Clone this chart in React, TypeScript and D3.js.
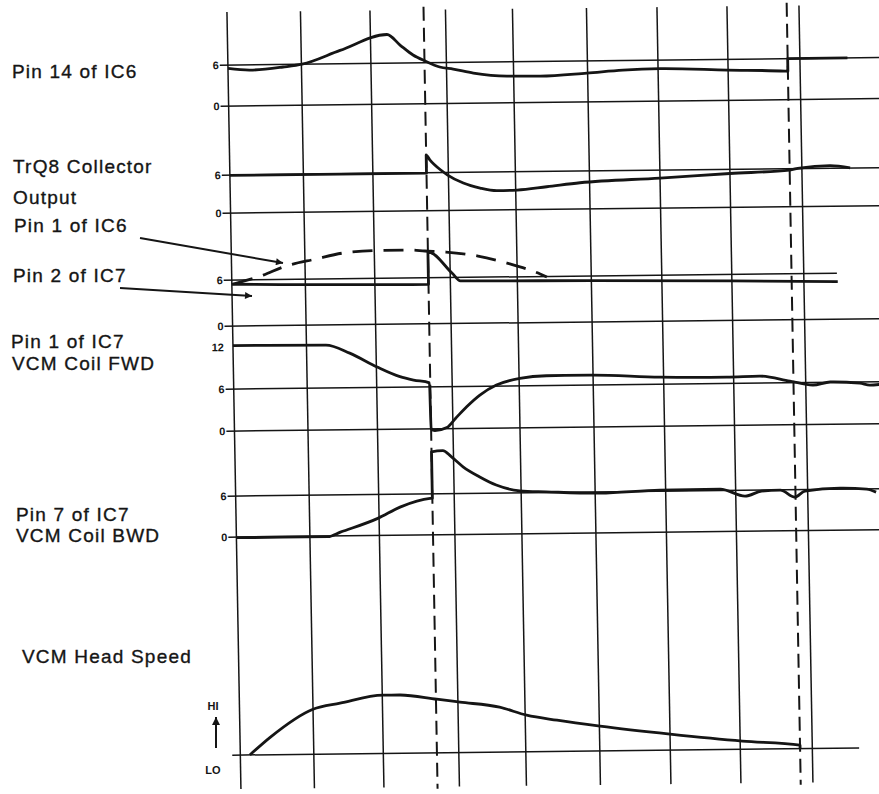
import React, { useEffect, useRef } from 'react';
import * as d3 from 'd3';

// time divisions (solid grid lines) and the two dashed event markers
const divisions = [0, 1, 2, 3, 4, 5, 6, 7, 8];
const markers = [2.71, 7.83];

// traces: [time division, volts]
const pin14IC6: [number, number][] = [
  [0, 5.5], [0.3, 5.22], [0.75, 5.62], [1.01, 6.0], [1.56, 7.95],
  [2.22, 10.2], [2.39, 8.64], [2.56, 7.16], [2.72, 6.25], [2.91, 5.36],
  [3.1, 5.03], [3.4, 4.42], [3.9, 3.92], [4.36, 3.86], [4.99, 4.23], [5.5, 4.6],
  [6.03, 4.74], [6.99, 4.43], [7.79, 4.18], [7.83, 4.15], [7.83, 6.0], [8.66, 6.0],
];

const trQ8Collector: [number, number][] = [
  [0, 5.95], [2.71, 5.95], [2.71, 8.8], [2.76, 8.0], [2.9, 6.41], [2.99, 5.6],
  [3.22, 4.31], [3.47, 3.49], [3.72, 3.05], [4.02, 3.11], [4.42, 3.58], [4.87, 4.15],
  [6.0, 4.75], [7.0, 5.34], [7.83, 5.78], [7.97, 6.08], [8.39, 6.4], [8.67, 6.0],
];

const pin1IC6: [number, number][] = [
  [0.02, 5.48], [0.43, 6.6], [0.7, 7.62], [1.15, 8.6], [1.61, 9.42], [2.08, 9.63],
  [2.47, 9.64], [2.67, 9.5], [2.95, 9.33], [3.42, 8.76], [3.85, 7.8], [4.31, 6.33],
  [4.4, 5.92],
];

const pin2IC7: [number, number][] = [
  [0, 5.45], [2.71, 5.15], [2.71, 9.39], [3.03, 6.55], [3.15, 5.55], [5.0, 5.4],
  [7.0, 5.15], [8.47, 4.9],
];

const pin1IC7: [number, number][] = [
  [0, 12.2], [1.28, 12.13], [1.62, 10.94], [2.01, 8.9], [2.31, 7.49], [2.49, 6.99],
  [2.7, 6.57], [2.71, 0.05], [2.76, -0.25], [2.92, 0.17], [3.04, 1.44], [3.21, 3.09],
  [3.41, 4.74], [3.66, 6.14], [4.01, 7.06], [4.37, 7.39], [4.96, 7.41], [5.95, 7.01],
  [6.9, 6.9], [7.36, 7.0], [7.78, 6.23], [8.1, 5.63], [8.34, 6.03], [8.75, 5.83],
  [8.89, 5.53], [9.02, 5.6],
];

const pin7IC7: [number, number][] = [
  [0, -0.1], [1.26, -0.1], [1.44, 0.54], [1.99, 2.53], [2.28, 4.1], [2.68, 5.33],
  [2.71, 5.35], [2.71, 12.15], [2.86, 12.3], [2.97, 11.4], [3.14, 9.9], [3.38, 8.42],
  [3.63, 7.17], [3.98, 6.29], [4.34, 6.1], [5.07, 5.82], [5.92, 6.16], [6.78, 6.2],
  [7.13, 5.14], [7.36, 5.84], [7.62, 5.96], [7.82, 4.92], [7.96, 5.77], [8.45, 6.15],
  [8.82, 5.96], [8.95, 5.5],
];

// head speed, arbitrary units (LO = 0)
const headSpeed: [number, number][] = [
  [0.13, 0], [0.41, 2.9], [1.0, 7.5], [1.39, 8.45], [2.01, 9.7], [2.23, 9.7],
  [2.72, 8.93], [3.03, 8.4], [3.62, 7.48], [4.02, 6.1], [4.43, 5.2], [5.01, 4.13],
  [6.0, 2.67], [7.03, 1.37], [7.83, 0.58], [7.83, 0],
];

const signalLabels: [string, number, number][] = [
  ['Pin 14 of IC6', 12, 78],
  ['TrQ8 Collector', 13, 173],
  ['Output', 13, 204],
  ['Pin 1 of IC6', 14, 232],
  ['Pin 2 of IC7', 13, 282],
  ['Pin 1 of IC7', 11, 348],
  ['VCM Coil FWD', 12, 370],
  ['Pin 7 of IC7', 16, 521],
  ['VCM Coil BWD', 16, 542],
  ['VCM Head Speed', 22, 663],
];

const W = 879;
const H = 794;
const INK = '#151515';
const FONT = '"Liberation Sans", Arial, sans-serif';

export default function App() {
  const svgRef = useRef<SVGSVGElement>(null);

  useEffect(() => {
    if (!svgRef.current) return;
    const svg = d3.select(svgRef.current);
    svg.selectAll('*').remove();

    svg.append('rect').attr('width', W).attr('height', H).attr('fill', '#fff');

    const defs = svg.append('defs');
    defs.append('marker')
      .attr('id', 'head')
      .attr('viewBox', '0 0 10 10')
      .attr('refX', 10).attr('refY', 5)
      .attr('markerUnits', 'userSpaceOnUse')
      .attr('markerWidth', 14).attr('markerHeight', 7)
      .attr('orient', 'auto')
      .append('path').attr('d', 'M0,0L10,5L0,10z').attr('fill', INK);
    defs.append('marker')
      .attr('id', 'headSmall')
      .attr('viewBox', '0 0 10 10')
      .attr('refX', 10).attr('refY', 5)
      .attr('markerUnits', 'userSpaceOnUse')
      .attr('markerWidth', 11).attr('markerHeight', 8)
      .attr('orient', 'auto')
      .append('path').attr('d', 'M0,0L10,5L0,10z').attr('fill', INK);

    // the scanned sheet is slightly skewed
    const k = 0.018;
    const b = -0.0114;
    const g = svg.append('g')
      .attr('transform', `matrix(1,${b},${k},1,${-k * 15},${-b * 230})`);

    // Scales
    const x = d3.scaleLinear()
      .domain(divisions)
      .range([227, 300.5, 370, 445.5, 512.5, 586.5, 657, 727, 799]);

    const yPin14 = d3.scaleLinear().domain([0, 6]).range([106, 65]);
    const yTrQ8 = d3.scaleLinear().domain([0, 6]).range([213, 175]);
    const yPin2 = d3.scaleLinear().domain([0, 6]).range([326, 280]);
    const yFwd = d3.scaleLinear().domain([0, 6]).range([431, 389]);
    const yBwd = d3.scaleLinear().domain([0, 6]).range([537, 496]);
    const ySpeed = d3.scaleLinear().domain([0, 10]).range([755, 695]);

    const tStart = -0.11;
    const tEnd = 9.12;

    // vertical grid
    g.selectAll('.vgrid')
      .data(divisions)
      .enter()
      .append('line')
      .attr('x1', d => x(d)).attr('x2', d => x(d))
      .attr('y1', 12).attr('y2', 789)
      .attr('stroke', INK).attr('stroke-width', 1.5);

    g.selectAll('.marker')
      .data(markers)
      .enter()
      .append('line')
      .attr('x1', d => x(d)).attr('x2', d => x(d))
      .attr('y1', 9).attr('y2', 791)
      .attr('stroke', INK).attr('stroke-width', 2)
      .attr('stroke-dasharray', '14 7');

    // horizontal grid + tick labels
    const hLine = (y: number, t1 = tEnd) => {
      g.append('line')
        .attr('x1', x(tStart)).attr('x2', x(t1))
        .attr('y1', y).attr('y2', y)
        .attr('stroke', INK).attr('stroke-width', 1.5);
    };
    const tick = (label: string, y: number) => {
      g.append('text')
        .attr('x', x(tStart) - 1)
        .attr('y', y + 4)
        .attr('text-anchor', 'end')
        .style('font-family', FONT)
        .style('font-size', '11px')
        .style('font-weight', 'bold')
        .attr('fill', INK)
        .text(label);
    };

    [yPin14, yTrQ8, yFwd, yBwd].forEach(s => {
      hLine(s(6));
      hLine(s(0));
      tick('6', s(6));
      tick('0', s(0));
    });
    hLine(yPin2(6), 8.46);
    hLine(yPin2(0));
    tick('6', yPin2(6));
    tick('0', yPin2(0));
    tick('12', yFwd(12));
    hLine(ySpeed(0), 8.65);

    // traces
    const trace = (data: [number, number][], y: d3.ScaleLinear<number, number>, dash?: string) => {
      const line = d3.line<[number, number]>()
        .x(d => x(d[0]))
        .y(d => y(d[1]))
        .curve(d3.curveMonotoneX);
      const p = g.append('path')
        .datum(data)
        .attr('fill', 'none')
        .attr('stroke', INK)
        .attr('stroke-width', 2.8)
        .attr('stroke-linejoin', 'round')
        .attr('d', line);
      if (dash) p.attr('stroke-dasharray', dash);
    };

    trace(pin14IC6, yPin14);
    trace(trQ8Collector, yTrQ8);
    trace(pin1IC6, yPin2, '20 11');
    trace(pin2IC7, yPin2);
    trace(pin1IC7, yFwd);
    trace(pin7IC7, yBwd);
    trace(headSpeed, ySpeed);

    // signal names
    svg.selectAll('.sig')
      .data(signalLabels)
      .enter()
      .append('text')
      .attr('x', d => d[1])
      .attr('y', d => d[2])
      .style('font-family', FONT)
      .style('font-size', '19px')
      .style('letter-spacing', '1.2px')
      .attr('fill', INK)
      .attr('stroke', INK)
      .attr('stroke-width', 0.35)
      .text(d => d[0]);

    // pointer arrows
    svg.append('line')
      .attr('x1', 140).attr('y1', 238).attr('x2', 283).attr('y2', 263)
      .attr('stroke', INK).attr('stroke-width', 2)
      .attr('marker-end', 'url(#head)');
    svg.append('line')
      .attr('x1', 120).attr('y1', 288).attr('x2', 252).attr('y2', 296)
      .attr('stroke', INK).attr('stroke-width', 2)
      .attr('marker-end', 'url(#head)');

    // HI / LO scale
    const small = (t: string, yy: number) =>
      svg.append('text')
        .attr('x', 213).attr('y', yy)
        .attr('text-anchor', 'middle')
        .style('font-family', FONT)
        .style('font-size', '11px')
        .style('font-weight', 'bold')
        .attr('fill', INK)
        .text(t);
    small('HI', 710);
    small('LO', 774);
    svg.append('line')
      .attr('x1', 216).attr('y1', 748).attr('x2', 216).attr('y2', 717)
      .attr('stroke', INK).attr('stroke-width', 2)
      .attr('marker-end', 'url(#headSmall)');
  }, []);

  return (
    <svg
      ref={svgRef}
      width={W}
      height={H}
      style={{ position: 'absolute', left: 0, top: 0 }}
    />
  );
}
